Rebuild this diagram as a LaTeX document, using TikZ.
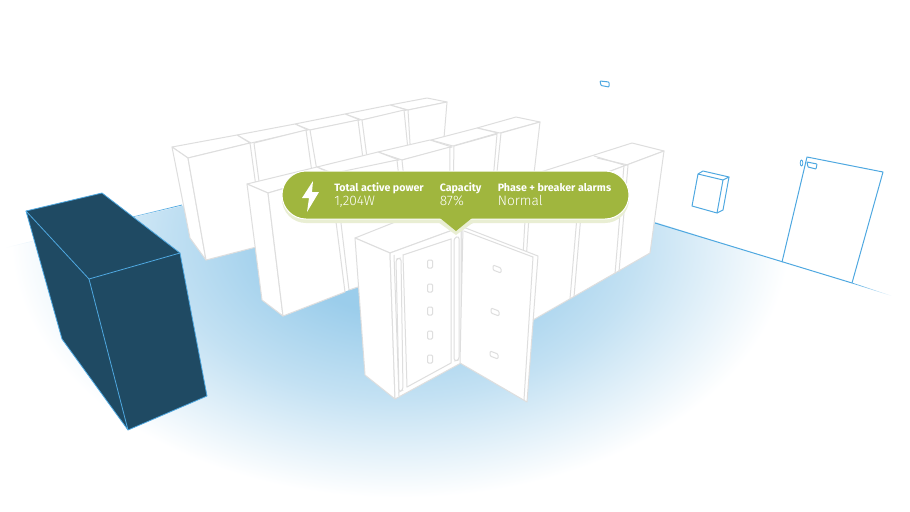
\documentclass[tikz,border=0pt]{standalone}
\usepackage{xcolor}
\usepackage{fontspec}
\setmainfont{Fira Sans}
\newfontfamily\lightfont{Fira Sans Light}
\usetikzlibrary{positioning}
\definecolor{floorblue}{HTML}{9BCDEB}
\definecolor{wallblue}{HTML}{4FA8E0}
\definecolor{cabline}{HTML}{DEDEDE}
\definecolor{darkbox}{HTML}{1F4A63}
\definecolor{bubblegreen}{HTML}{A0B63E}
\definecolor{bubbleshadow}{HTML}{E9EED3}
\pgfdeclareradialshading{floorglow}{\pgfpoint{0bp}{0bp}}{color(0bp)=(floorblue); color(7bp)=(floorblue); color(15bp)=(floorblue!60!white); color(24.5bp)=(white); color(50bp)=(white)}
\begin{document}
\begin{tikzpicture}[
      x=0.75pt,y=-0.75pt,
      cab/.style={draw=cabline,fill=white,line width=0.75pt,line join=round},
      cabthin/.style={draw=cabline,line width=0.75pt},
      handle/.style={draw=cabline,fill=white,line width=0.75pt,rounded corners=0.9pt},
      wall/.style={draw=wallblue,line width=0.75pt,line join=round},
      darkface/.style={draw=wallblue,fill=darkbox,line width=0.6pt,line join=round},
      headtext/.style={anchor=base west,text=white,font=\fontsize{8}{10}\selectfont\bfseries,inner sep=0pt},
      valuetext/.style={anchor=base west,text=white,font=\fontsize{10.3}{12}\lightfont,inner sep=0pt},
    ]
    \useasboundingbox (0,0) rectangle (910,511);
    \begin{scope}
      \clip (5,248) -- (421,149) -- (892,296) -- (892,511) -- (5,511) -- cycle;
      \shade[shading=floorglow] (400,240) ellipse [x radius=397, y radius=263];
    \end{scope}
    \shade[left color=white,right color=wallblue] (5,248) -- (182,205.4) -- (182,204.6) -- (5,247.6) -- cycle;
    \draw[wall] (655,223) -- (852,283);
    \shade[left color=wallblue,right color=white] (852,282.6) -- (892,295.8) -- (892,296.2) -- (852,283.4) -- cycle;

    \fill[white] (188,158) -- (447,102) -- (443,150) -- (318,215) -- (264,245) -- (206,260) -- cycle;
    \draw[cab] (390,105) -- (427,98) -- (447,102) -- (408,110) -- cycle;
    \draw[cab] (408,110) -- (447,102) -- (443,150) -- (411,160) -- cycle;
    \draw[cab] (345,114) -- (390,105) -- (407,110) -- (362,120) -- cycle;
    \draw[cab] (362,120) -- (404,110) -- (410,170) -- (370,180) -- cycle;
    \draw[cab] (295,124) -- (345,114) -- (360,120) -- (310,130) -- cycle;
    \draw[cab] (310,130) -- (358,120) -- (367,190) -- (322,200) -- cycle;
    \draw[cab] (237,135) -- (295,124) -- (308,130) -- (251,143) -- cycle;
    \draw[cab] (254,143) -- (306,130) -- (318,215) -- (266,235) -- cycle;
    \draw[cab] (172,147) -- (237,135) -- (250,143) -- (188,158) -- cycle;
    \draw[cab] (172,147) -- (188,158) -- (206,260) -- (190,238) -- cycle;
    \draw[cab] (188,158) -- (250,143) -- (264,245) -- (206,260) -- cycle;

    \fill[white] (268,193) -- (540,122) -- (528,225) -- (349,290) -- (283,316) -- cycle;
    \draw[cab] (477,128) -- (516,117) -- (540,122) -- (500,133) -- cycle;
    \draw[cab] (501,133) -- (540,122) -- (528,225) -- (490,240) -- cycle;
    \draw[cab] (431,140) -- (477,128) -- (498,133) -- (453,146) -- cycle;
    \draw[cab] (454,146) -- (497,134) -- (488,240) -- (452,252) -- cycle;
    \draw[cab] (378,152) -- (430,140) -- (452,147) -- (402,160) -- cycle;
    \draw[cab] (402,160) -- (450,147) -- (449,252) -- (413,267) -- cycle;
    \draw[cab] (317,167) -- (378,152) -- (399,160) -- (335,174) -- cycle;
    \draw[cab] (335,173) -- (397,160) -- (409,270) -- (349,290) -- cycle;
    \draw[cab] (247,184) -- (317,167) -- (332,174) -- (268,193) -- cycle;
    \draw[cab] (247,184) -- (268,193) -- (283,316) -- (262,300) -- cycle;
    \draw[cab] (268,193) -- (330,175) -- (345,292) -- (283,316) -- cycle;

    \draw[cab] (443,203) -- (632,143) -- (664,151) -- (461,227) -- cycle;
    \draw[cab] (461,227) -- (664,151) -- (650,253) -- (533,320) -- (461,363) -- cycle;
    \draw[cabthin] (594,156) -- (624,165) -- (615,274);
    \draw[cabthin] (597,158) -- (628,165) -- (619,272);
    \draw[cabthin] (580,181) -- (570,299);
    \draw[cabthin] (584,179) -- (574,297);
    \draw[cabthin] (526,203) -- (519,325);
    \draw[cabthin] (530,201) -- (522,323);

    \draw[cab] (355,238) -- (443,203) -- (461,227) -- (390,253) -- cycle;
    \draw[cab] (355,238) -- (390,253) -- (395,399) -- (365,375) -- cycle;
    \draw[cab] (390,253) -- (461,227) -- (461,363) -- (395,399) -- cycle;
    \draw[cabthin] (394,255) -- (399,396);
    \draw[handle,rounded corners=2pt] (396,259) -- (401,258) -- (403,390) -- (399,392) -- cycle;
    \draw[cabthin] (403,255) -- (451,239) -- (451,363) -- (407,387) -- cycle;
    \draw[handle,rounded corners=2pt] (454,238) -- (459,236) -- (459,360) -- (454,361) -- cycle;
    \draw[cab] (463,227) -- (538,256) -- (527,402) -- (460,363) -- cycle;
    \draw[cabthin] (464,231) -- (533,257) -- (524,400);
    \foreach \hy in {264,288,311,335,359}
      \draw[handle] (427.5,{\hy-4}) rectangle (432.5,{\hy+4});
    \foreach \hx/\hy in {497/269,495/312,494/355}
      \draw[handle] ({\hx-4},{\hy-4}) -- ({\hx+4},{\hy-1}) -- ({\hx+4},{\hy+4}) -- ({\hx-4},{\hy+1}) -- cycle;

    \draw[darkface] (26,211) -- (102,193) -- (180,253) -- (207,396) -- (128,430) -- (62,339) -- cycle;
    \draw[wallblue,line width=0.6pt] (26,211) -- (89,279) -- (180,253);
    \draw[wallblue,line width=0.6pt] (89,279) -- (128,430);

    \draw[wall,rounded corners=0.6pt] (600,81) -- (609,82) -- (609,87) -- (601,85.5) -- cycle;
    \draw[wall] (698,174) -- (723,180) -- (717,213) -- (692,206) -- cycle;
    \draw[wall] (698,174) -- (703,171) -- (729,177) -- (723,180);
    \draw[wall] (729,177) -- (723,210) -- (717,213);
    \draw[wall] (782,262) -- (807,157) -- (883,172) -- (852,283);
    \draw[wall,rounded corners=0.4pt] (807,162) -- (817,164) -- (816,169) -- (808,167) -- cycle;
    \draw[wall,line width=0.6pt] (801.5,163) ellipse [x radius=1.3, y radius=3];

    \fill[bubbleshadow,rounded corners=18pt] (282,175) rectangle (629,223);
    \fill[bubbleshadow] (438,222) -- (456,235) -- (474,222) -- cycle;
    \draw[draw=white,fill=bubblegreen,line width=0.75pt,rounded corners=18pt] (282,171) rectangle (629,219);
    \fill[bubblegreen] (440,218) -- (456,231) -- (472,218) -- cycle;
    \fill[white] (313,181) -- (302,198) -- (309,198) -- (307,212) -- (319,192) -- (312,192) -- cycle;
    \node[headtext] (power) at (334,191) {Total active power};
    \node[valuetext] (powerval) at (334,205.5) {1,204W};
    \node[headtext] (capacity) at (439.5,191) {Capacity};
    \node[valuetext] (capacityval) at (439.5,205.5) {87\%};
    \node[headtext] (phase) at (497.5,191) {Phase + breaker alarms};
    \node[valuetext] (phaseval) at (497.5,205.5) {Normal};
  \end{tikzpicture}
\end{document}
